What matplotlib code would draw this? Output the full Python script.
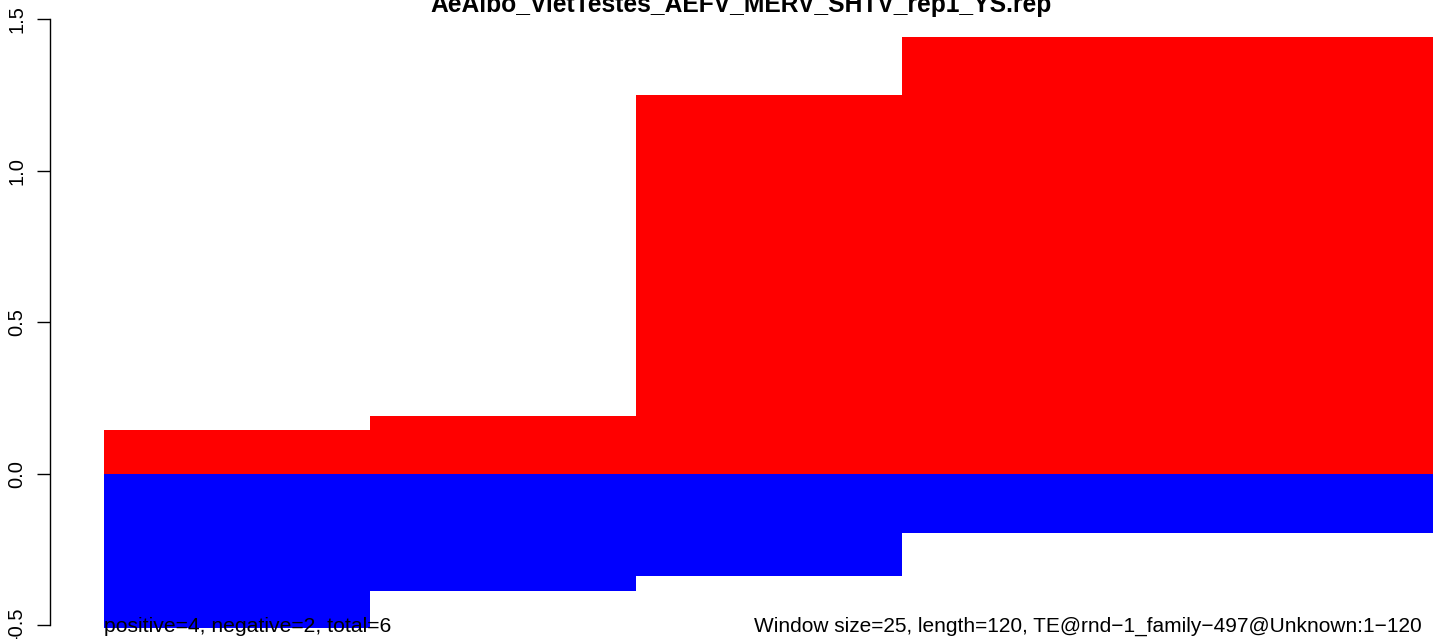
"""
Sliding-window strand bias plot (R-style base graphics look)
"""

import matplotlib
matplotlib.use("Agg")
import matplotlib.pyplot as plt
from matplotlib import transforms

plt.rcParams["font.family"] = ["Liberation Sans", "DejaVu Sans"]

# window data
win_start = [0, 25, 50, 75]
win_width = [25, 25, 25, 50]
positive = [0.144, 0.190, 1.250, 1.443]
negative = [-0.509, -0.387, -0.337, -0.195]
y_ticks = [-0.5, 0.0, 0.5, 1.0, 1.5]
y_tick_labels = ["-0.5", "0.0", "0.5", "1.0", "1.5"]

title = "AeAlbo_VietTestes_AEFV_MERV_SHTV_rep1_YS.rep"
left_note = "positive=4, negative=2, total=6"
right_note = "Window size=25, length=120, TE@rnd\u22121_family\u2212497@Unknown:1\u2212120"

W, H = 1433, 639
fig = plt.figure(figsize=(W / 100, H / 100), dpi=100)
ax = fig.add_axes([50 / W, 0, 1 - 50 / W, 1])

ax.bar(win_start, positive, width=win_width, align="edge", color="#FF0000", linewidth=0)
ax.bar(win_start, negative, width=win_width, align="edge", color="#0000FF", linewidth=0)

ax.set_xlim(-5.11, 125)
ax.set_ylim(-0.546, 1.564)

for s in ["top", "right", "bottom"]:
    ax.spines[s].set_visible(False)
ax.spines["left"].set_bounds(-0.5, 1.5)
ax.spines["left"].set_linewidth(1.0)
ax.set_xticks([])
ax.set_yticks(y_ticks)
ax.set_yticklabels(y_tick_labels, rotation=90, va="center", fontsize=14.5)
ax.tick_params(axis="y", length=9.5, width=1.0, pad=7.5)

# title sits at the top edge, partly cut off as in the original
fig.text((50 + (W - 50) / 2) / W, (H - 12) / H, title, ha="center", va="baseline",
         fontsize=17.7, fontweight="bold")

trans = transforms.blended_transform_factory(ax.transData, ax.transAxes)
ax.text(0, 7 / H, left_note, transform=trans, ha="left", va="baseline", fontsize=15.2)
fig.text(1422 / W, 7 / H, right_note, ha="right", va="baseline", fontsize=15)

fig.savefig("out.png", dpi=100, facecolor="white")
